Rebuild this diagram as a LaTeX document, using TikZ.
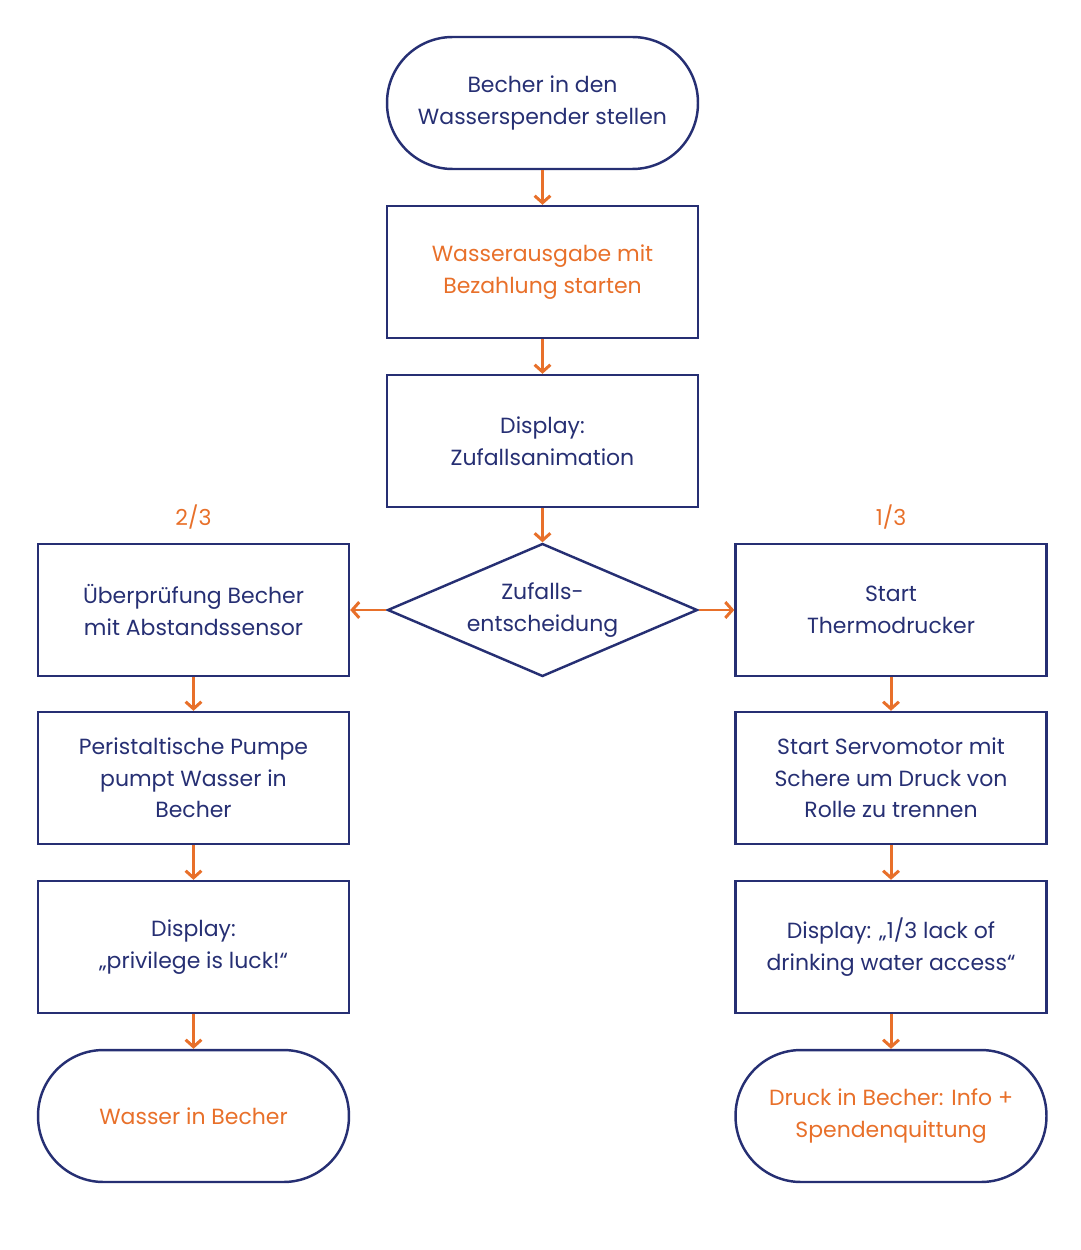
\documentclass[tikz,border=0pt]{standalone}
\usepackage{fontspec}
\setmainfont{Poppins}
\usetikzlibrary{arrows.meta,shapes.geometric}

\definecolor{navy}{HTML}{262F73}
\definecolor{flow}{HTML}{E8702A}

\begin{document}
\begin{tikzpicture}[x=0.02cm, y=-0.02cm,
  box/.style={draw=navy, line width=1.4pt, minimum width=6.22cm, minimum height=2.64cm,
    align=center, text=navy, inner sep=0pt, font=\fontsize{12.5}{18}\selectfont},
  term/.style={box, rounded corners=1.31cm},
  choice/.style={box, diamond, aspect=2.33, minimum width=6.2cm, minimum height=2.66cm},
  hl/.style={text=flow},
  ratio/.style={text=flow, font=\fontsize{12.5}{18}\selectfont},
  flowarrow/.style={draw=flow, line width=1.7pt, -{Straight Barb[length=4pt, width=9pt]}}]

\def\lx{193.5}
\def\mx{542.5}
\def\rx{891}

\path [use as bounding box] (0,0) rectangle (1080,1250);

% MIDDLE
\node [term] (start) at (\mx,103) {Becher in den\\Wasserspender stellen};
\node [box, hl] (pay) at (\mx,272) {Wasserausgabe mit\\Bezahlung starten};
\node [box] (anim) at (\mx,441) {Display:\\Zufallsanimation};
\node [choice] (rand) at (\mx,610) {Zufalls-\\entscheidung};

% LEFT
\node [ratio] (twothirds) at (\lx,517) {2/3};
\node [box] (check) at (\lx,610) {Überprüfung Becher\\mit Abstandssensor};
\node [box] (pump) at (\lx,778) {Peristaltische Pumpe\\pumpt Wasser in\\Becher};
\node [box] (luck) at (\lx,947) {Display:\\„privilege is luck!“};
\node [term, hl] (water) at (\lx,1116) {Wasser in Becher};

% RIGHT
\node [ratio] (onethird) at (\rx,517) {1/3};
\node [box] (printer) at (\rx,610) {Start\\Thermodrucker};
\node [box] (servo) at (\rx,778) {Start Servomotor mit\\Schere um Druck von\\Rolle zu trennen};
\node [box] (lack) at (\rx,947) {Display: „1/3 lack of\\drinking water access“};
\node [term, hl] (receipt) at (\rx,1116) {Druck in Becher: Info +\\Spendenquittung};

% ARROWS
\draw [flowarrow] (start) -- (pay);
\draw [flowarrow] (pay) -- (anim);
\draw [flowarrow] (anim) -- (rand);
\draw [flowarrow] (rand) -- (check);
\draw [flowarrow] (rand) -- (printer);
\draw [flowarrow] (check) -- (pump);
\draw [flowarrow] (pump) -- (luck);
\draw [flowarrow] (luck) -- (water);
\draw [flowarrow] (printer) -- (servo);
\draw [flowarrow] (servo) -- (lack);
\draw [flowarrow] (lack) -- (receipt);

\end{tikzpicture}
\end{document}
